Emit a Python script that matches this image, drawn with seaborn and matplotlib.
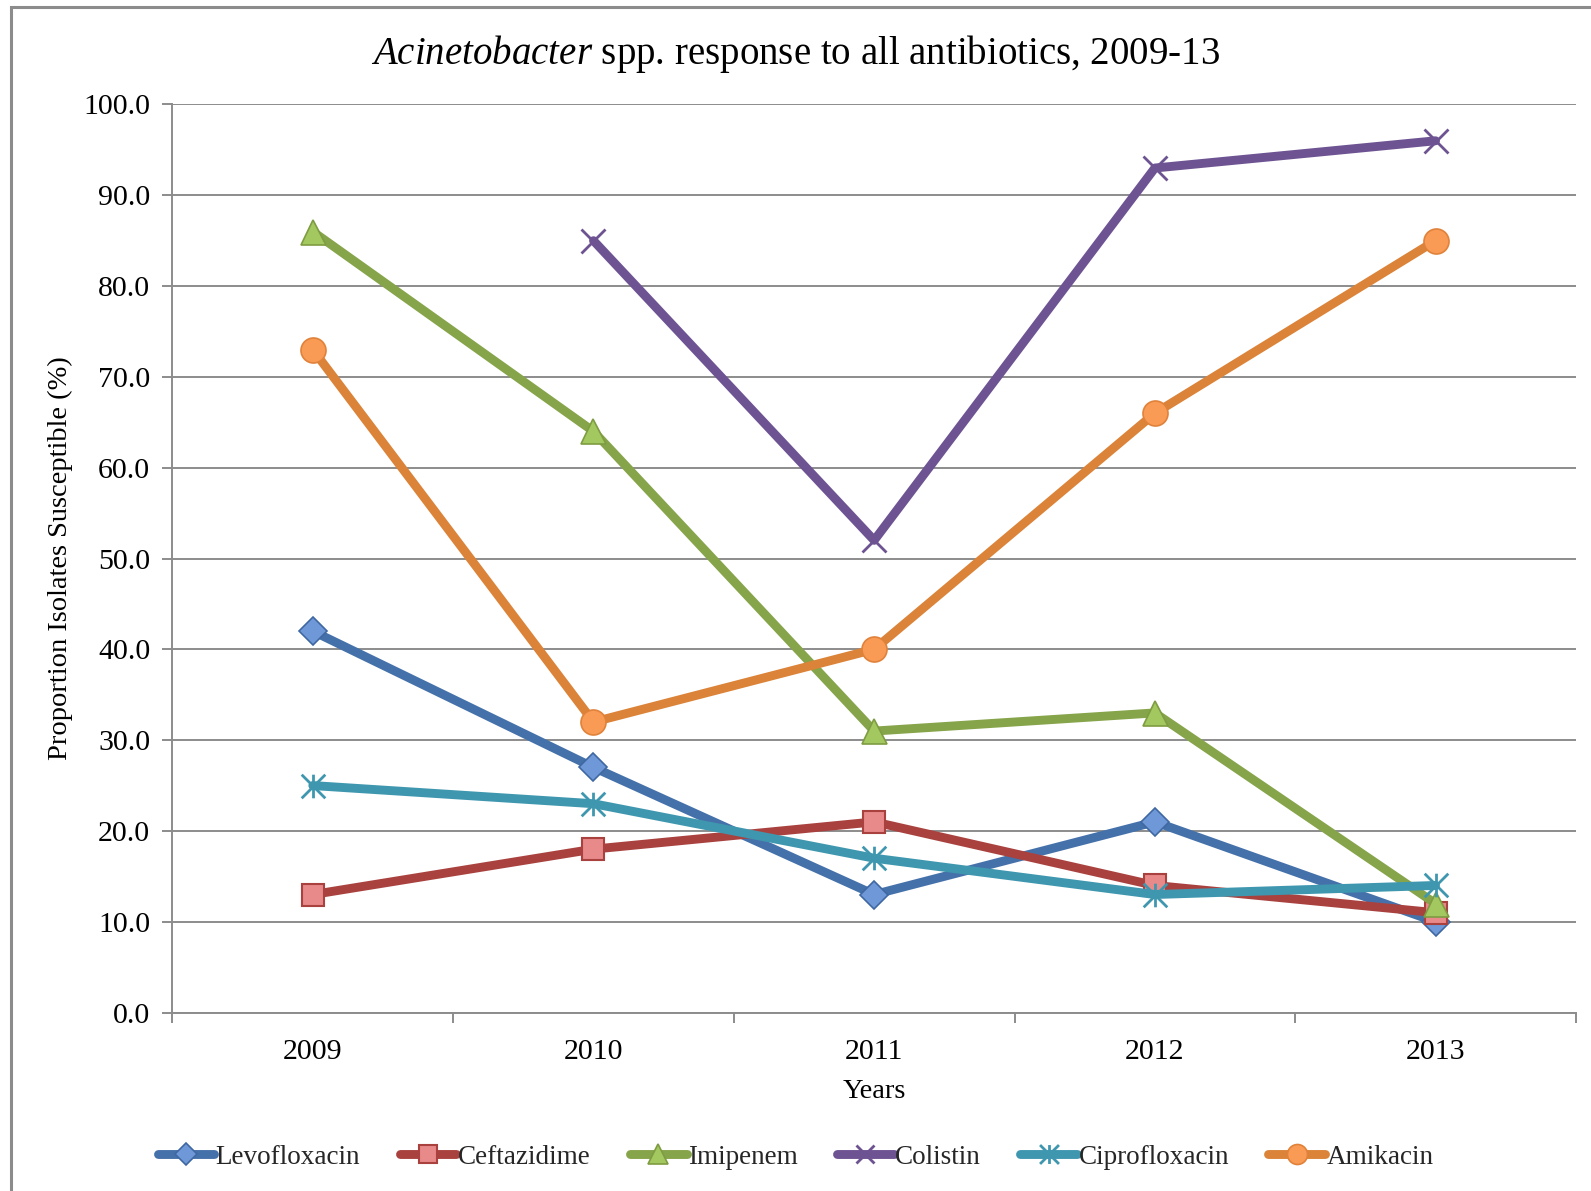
import numpy as np
import pandas as pd
import seaborn as sns
import matplotlib
matplotlib.use("Agg")
import matplotlib.pyplot as plt
from matplotlib.path import Path
from matplotlib.patches import Rectangle
from matplotlib.ticker import FixedLocator, FormatStrFormatter

# ---- data -------------------------------------------------------------
years = [2009, 2010, 2011, 2012, 2013]
levofloxacin = [42, 27, 13, 21, 10]
ceftazidime = [13, 18, 21, 14, 11]
imipenem = [86, 64, 31, 33, 12]
colistin = [np.nan, 85, 52, 93, 96]
ciprofloxacin = [25, 23, 17, 13, 14]
amikacin = [73, 32, 40, 66, 85]

series_names = ["Levofloxacin", "Ceftazidime", "Imipenem", "Colistin",
                "Ciprofloxacin", "Amikacin"]
series_values = [levofloxacin, ceftazidime, imipenem, colistin,
                 ciprofloxacin, amikacin]

df = pd.DataFrame({
    "Year": np.tile(years, len(series_names)),
    "Antibiotic": np.repeat(series_names, len(years)),
    "Value": np.concatenate([np.asarray(v, dtype=float) for v in series_values]),
})

# ---- styling ----------------------------------------------------------
sns.set_theme(style="white")
plt.rcParams["font.family"] = ["Liberation Serif", "DejaVu Serif"]
plt.rcParams["mathtext.fontset"] = "custom"
plt.rcParams["mathtext.rm"] = "Liberation Serif"
plt.rcParams["mathtext.it"] = "Liberation Serif:italic"

asterisk = Path([(0, -1), (0, 1), (-1, -1), (1, 1), (-1, 1), (1, -1)],
                [Path.MOVETO, Path.LINETO, Path.MOVETO, Path.LINETO,
                 Path.MOVETO, Path.LINETO])

styles = {
    "Levofloxacin": dict(color="#4571AA", marker="D", markersize=14,
                         markerfacecolor="#6F98D8", markeredgecolor="#3F68A2",
                         markeredgewidth=1.2),
    "Ceftazidime": dict(color="#A9423F", marker="s", markersize=16,
                        markerfacecolor="#E8898A", markeredgecolor="#A9423F",
                        markeredgewidth=1.5),
    "Imipenem": dict(color="#86A44A", marker="^", markersize=18,
                     markerfacecolor="#A3C860", markeredgecolor="#7E9C41",
                     markeredgewidth=1.2),
    "Colistin": dict(color="#6E5393", marker="x", markersize=17,
                     markeredgecolor="#6E5393", markeredgewidth=2.0),
    "Ciprofloxacin": dict(color="#3F97AF", marker=asterisk, markersize=17,
                          markeredgecolor="#3F97AF", markeredgewidth=2.0),
    "Amikacin": dict(color="#DB8338", marker="o", markersize=18,
                     markerfacecolor="#F99B55", markeredgecolor="#E0823A",
                     markeredgewidth=1.2),
}

fig = plt.figure(figsize=(15.91, 11.91), dpi=100)
ax = fig.add_axes([0.1084, 0.1498, 0.8821, 0.7625])

for name in series_names:
    sub = df[df["Antibiotic"] == name].dropna()
    sns.lineplot(data=sub, x="Year", y="Value", ax=ax, label=name,
                 linewidth=6.4, solid_capstyle="round", solid_joinstyle="round",
                 **styles[name])

# ---- axes -------------------------------------------------------------
ax.set_xlim(2008.5, 2013.5)
ax.set_ylim(0, 100)
ax.set_yticks(np.arange(0, 101, 10))
ax.yaxis.set_major_formatter(FormatStrFormatter("%.1f"))
ax.set_xticks(years)
ax.set_xticklabels([str(y) for y in years])
ax.xaxis.set_minor_locator(FixedLocator(np.arange(2008.5, 2014, 1.0)))

grid_c = "#8C8C8C"
ax.yaxis.grid(True, color=grid_c, linewidth=1.4)
ax.set_axisbelow(True)
for s in ["top", "right"]:
    ax.spines[s].set_visible(False)
for s in ["left", "bottom"]:
    ax.spines[s].set_color(grid_c)
    ax.spines[s].set_linewidth(1.4)

ax.tick_params(axis="y", which="major", left=True, length=7, width=1.4,
               color=grid_c, labelsize=21.5, pad=9, labelcolor="black")
ax.tick_params(axis="x", which="major", bottom=False, labelsize=21.5, pad=13,
               labelcolor="black")
ax.tick_params(axis="x", which="minor", bottom=True, length=7, width=1.4,
               color=grid_c, direction="out")

ax.set_xlabel("Years", fontsize=20.5, labelpad=10, color="black")
ax.set_ylabel("Proportion Isolates Susceptible (%)", fontsize=20.5, color="black")
ax.yaxis.set_label_coords(-0.071, 0.5)

fig.text(0.5, 0.955,
         r"$\mathit{Acinetobacter}$ spp. response to all antibiotics, 2009-13",
         ha="center", va="center", fontsize=28, color="black")

# ---- legend -----------------------------------------------------------
handles, labels = ax.get_legend_handles_labels()
ax.legend(handles, labels, loc="center", bbox_to_anchor=(0.5, 0.0285),
          bbox_transform=fig.transFigure, ncol=6, frameon=False,
          fontsize=19.5, handlelength=2.1, handletextpad=0.05,
          columnspacing=1.45, markerscale=0.8)

# outer chart frame
fig.patches.append(Rectangle((11 / 1591, -0.1), 1.2, 1.1 - 7 / 1191,
                             transform=fig.transFigure, fill=False,
                             edgecolor="#8C8C8C", linewidth=2.2, zorder=0))

fig.savefig("out.png", dpi=100, facecolor="white")
